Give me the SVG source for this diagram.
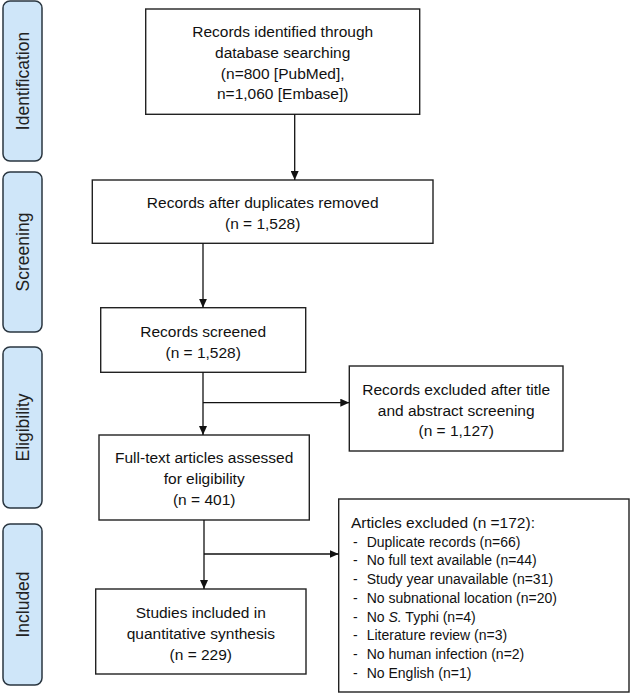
<svg xmlns="http://www.w3.org/2000/svg" width="632" height="694" viewBox="0 0 632 694">
  <style>
    .box { fill: #ffffff; stroke: #222222; stroke-width: 1.4; }
    .phase { fill: #cfe6f9; stroke: #2a3640; stroke-width: 1.5; }
    .t { font-family: "Liberation Sans", Arial, sans-serif; font-size: 15.5px; fill: #111111; text-anchor: middle; dominant-baseline: central; }
    .l { font-family: "Liberation Sans", Arial, sans-serif; font-size: 15.5px; fill: #111111; dominant-baseline: central; }
    .i { font-family: "Liberation Sans", Arial, sans-serif; font-size: 14px; fill: #111111; dominant-baseline: central; }
    .p { font-family: "Liberation Sans", Arial, sans-serif; font-size: 17.5px; fill: #222222; text-anchor: middle; dominant-baseline: central; }
    .c { fill: none; stroke: #111111; stroke-width: 1.3; }
  </style>
  <defs>
    <marker id="arr" viewBox="0 0 10 10" refX="10" refY="5" markerWidth="9" markerHeight="8" markerUnits="userSpaceOnUse" orient="auto" preserveAspectRatio="none">
      <path d="M0,0 L10,5 L0,10 z" fill="#111111"/>
    </marker>
  </defs>

  <g id="phase-identification">
    <rect class="phase" x="3" y="1" width="39" height="160" rx="7"/>
    <text class="p" transform="translate(23,81) rotate(-90)">Identification</text>
  </g>
  <g id="phase-screening">
    <rect class="phase" x="3" y="172" width="39" height="160" rx="7"/>
    <text class="p" transform="translate(23,252) rotate(-90)">Screening</text>
  </g>
  <g id="phase-eligibility">
    <rect class="phase" x="3" y="347" width="39" height="161" rx="7"/>
    <text class="p" transform="translate(23,427.5) rotate(-90)">Eligibility</text>
  </g>
  <g id="phase-included">
    <rect class="phase" x="3" y="524" width="39" height="161" rx="7"/>
    <text class="p" transform="translate(23,604.5) rotate(-90)">Included</text>
  </g>

  <g id="node-identified">
    <rect class="box" x="145.7" y="9" width="274" height="105.3"/>
    <text class="t" x="282.7" y="31.7">Records identified through</text>
    <text class="t" x="282.7" y="52.5">database searching</text>
    <text class="t" x="282.7" y="73">(n=800 [PubMed],</text>
    <text class="t" x="282.7" y="93.5">n=1,060 [Embase])</text>
  </g>

  <g id="node-duplicates">
    <rect class="box" x="92.3" y="180" width="340.7" height="63.3"/>
    <text class="t" x="262.7" y="202.7">Records after duplicates removed</text>
    <text class="t" x="262.7" y="223.3">(n = 1,528)</text>
  </g>

  <g id="node-screened">
    <rect class="box" x="100.7" y="307.7" width="205" height="64.6"/>
    <text class="t" x="203.2" y="331">Records screened</text>
    <text class="t" x="203.2" y="352.3">(n = 1,528)</text>
  </g>

  <g id="node-excluded-title">
    <rect class="box" x="349.3" y="366" width="213.7" height="85"/>
    <text class="t" x="456.2" y="389.3">Records excluded after title</text>
    <text class="t" x="456.2" y="410.5">and abstract screening</text>
    <text class="t" x="456.2" y="430.7">(n = 1,127)</text>
  </g>

  <g id="node-fulltext">
    <rect class="box" x="99" y="435" width="210.3" height="85"/>
    <text class="t" x="204.2" y="457.3">Full-text articles assessed</text>
    <text class="t" x="204.2" y="478.3">for eligibility</text>
    <text class="t" x="204.2" y="499">(n = 401)</text>
  </g>

  <g id="node-articles-excluded">
    <rect class="box" x="338.7" y="499" width="290.3" height="193"/>
    <text class="l" x="351" y="522.7">Articles excluded (n =172):</text>
    <text class="i" x="353" y="541.7">-</text>
    <text class="i" x="366.7" y="541.7">Duplicate records (n=66)</text>
    <text class="i" x="353" y="560.4">-</text>
    <text class="i" x="366.7" y="560.4">No full text available (n=44)</text>
    <text class="i" x="353" y="579.2">-</text>
    <text class="i" x="366.7" y="579.2">Study year unavailable (n=31)</text>
    <text class="i" x="353" y="598">-</text>
    <text class="i" x="366.7" y="598">No subnational location (n=20)</text>
    <text class="i" x="353" y="616.7">-</text>
    <text class="i" x="366.7" y="616.7">No <tspan font-style="italic">S.</tspan> Typhi (n=4)</text>
    <text class="i" x="353" y="635.4">-</text>
    <text class="i" x="366.7" y="635.4">Literature review (n=3)</text>
    <text class="i" x="353" y="654.1">-</text>
    <text class="i" x="366.7" y="654.1">No human infection (n=2)</text>
    <text class="i" x="353" y="672.8">-</text>
    <text class="i" x="366.7" y="672.8">No English (n=1)</text>
  </g>

  <g id="node-included">
    <rect class="box" x="95.7" y="589" width="210.3" height="85"/>
    <text class="t" x="200.8" y="612.7">Studies included in</text>
    <text class="t" x="200.8" y="633.3">quantitative synthesis</text>
    <text class="t" x="200.8" y="654">(n = 229)</text>
  </g>

  <g id="connectors">
    <line class="c" x1="294.7" y1="114.3" x2="294.7" y2="180" marker-end="url(#arr)"/>
    <line class="c" x1="203" y1="243.3" x2="203" y2="307.7" marker-end="url(#arr)"/>
    <line class="c" x1="203" y1="372.3" x2="203" y2="435" marker-end="url(#arr)"/>
    <line class="c" x1="203" y1="402.7" x2="349.3" y2="402.7" marker-end="url(#arr)"/>
    <line class="c" x1="204" y1="520" x2="204" y2="589" marker-end="url(#arr)"/>
    <line class="c" x1="204" y1="554" x2="338.7" y2="554" marker-end="url(#arr)"/>
  </g>
</svg>
